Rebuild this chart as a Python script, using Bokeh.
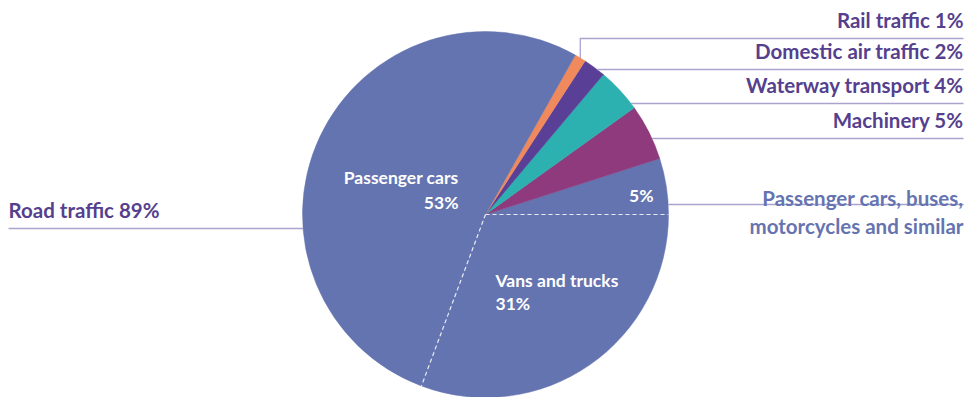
import numpy as np
from bokeh.plotting import figure
from bokeh.models import Range1d, ColumnDataSource
from bokeh.core.properties import value
from bokeh.embed import file_html
from bokeh.resources import INLINE

# Slices counter-clockwise starting at 3 o'clock
slice_names = ["Passenger cars, buses, motorcycles and similar", "Machinery", "Waterway transport",
               "Domestic air traffic", "Rail traffic", "Passenger cars", "Vans and trucks"]
slice_values = [5, 5, 4, 2, 1, 53, 31]
slice_colors = ["#6474B0", "#8E3A7C", "#2DB0B0", "#5A3F97", "#F08A5D", "#6474B0", "#6474B0"]

outer_labels = ["Rail traffic 1%", "Domestic air traffic 2%", "Waterway transport 4%", "Machinery 5%"]
road_label = "Road traffic 89%"

W, H = 968, 397
cx, cy, R = 485, H - 214, 183

vals = np.array(slice_values, dtype=float)
ends = np.cumsum(vals) / vals.sum() * 2 * np.pi
starts = np.concatenate([[0.0], ends[:-1]])

p = figure(width=W, height=H, x_range=Range1d(0, W), y_range=Range1d(0, H),
           output_backend="svg", toolbar_location=None, min_border=0)
p.axis.visible = False
p.grid.visible = False
p.outline_line_color = None
p.background_fill_color = "white"

src = ColumnDataSource(dict(start=starts, end=ends, color=slice_colors, name=slice_names))
p.wedge(x=cx, y=cy, radius=R, start_angle="start", end_angle="end", fill_color="color",
        line_color="color", line_width=0.5, source=src)

# dashed white boundaries inside road traffic
for ang in [0.0, starts[6]]:
    p.line([cx, cx + R * np.cos(ang)], [cy, cy + R * np.sin(ang)], line_color="white",
           line_dash="4 3", line_width=1.2, line_alpha=0.85)

line_col = "#A9A3CE"
text_col = "#553F8E"
light_col = "#6574B0"
fnt = value("Lato")
OUT = "20.5px"
INN = "17.5px"

def edge_x(py):
    dy = (H - py) - cy
    return cx + np.sqrt(max(R * R - dy * dy, 0))

# Rail traffic leader: vertical from slice tip then horizontal
rail_mid = (starts[4] + ends[4]) / 2
tip_x = cx + R * np.cos(rail_mid)
tip_y = cy + R * np.sin(rail_mid)
p.line([tip_x, tip_x, 963], [tip_y, H - 38, H - 38], line_color=line_col, line_width=1.3)

line_ys = [38, 69, 103, 138]
for i, (lab, ly) in enumerate(zip(outer_labels, line_ys)):
    if i > 0:
        p.line([edge_x(ly), 963], [H - ly, H - ly], line_color=line_col, line_width=1.3)
    p.text(x=[963], y=[H - ly + 7], text=[lab], text_align="right", text_baseline="bottom",
           text_font=fnt, text_font_style="bold", text_font_size=OUT, text_color=text_col)

# small passenger slice leader
p.line([edge_x(204), 963], [H - 204, H - 204], line_color=line_col, line_width=1.3)
p.text(x=[963], y=[H - 197], text=["Passenger cars, buses,"], text_align="right",
       text_baseline="alphabetic", text_font=fnt, text_font_style="bold", text_font_size=OUT,
       text_color=light_col)
p.text(x=[963], y=[H - 225], text=["motorcycles and similar"], text_align="right",
       text_baseline="alphabetic", text_font=fnt, text_font_style="bold", text_font_size=OUT,
       text_color=light_col)

# Road traffic
p.line([8, 2 * cx - edge_x(228)], [H - 228, H - 228], line_color=line_col, line_width=1.3)
p.text(x=[8], y=[H - 221], text=[road_label], text_align="left", text_baseline="bottom",
       text_font=fnt, text_font_style="bold", text_font_size=OUT, text_color=text_col)

# inner labels
p.text(x=[458, 458], y=[H - 177, H - 202], text=["Passenger cars", "53%"], text_align="right",
       text_baseline="alphabetic", text_font=fnt, text_font_style="bold", text_font_size=INN,
       text_color="white")
p.text(x=[653], y=[H - 195], text=["5%"], text_align="right", text_baseline="alphabetic",
       text_font=fnt, text_font_style="bold", text_font_size=INN, text_color="white")
p.text(x=[495, 495], y=[H - 280, H - 303], text=["Vans and trucks", "31%"], text_align="left",
       text_baseline="alphabetic", text_font=fnt, text_font_style="bold", text_font_size=INN,
       text_color="white")

open("out.html", "w").write(file_html(p, INLINE))
